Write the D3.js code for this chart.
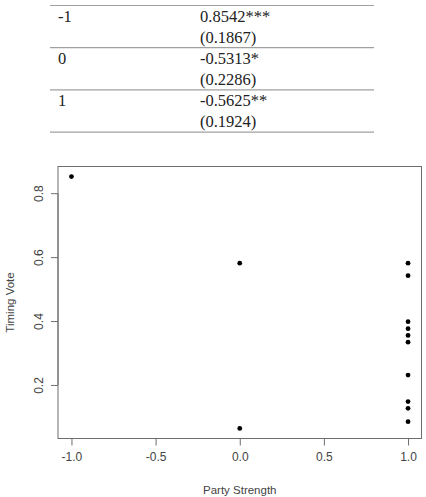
<!DOCTYPE html>
<html>
<head>
<meta charset="utf-8">
<script src="https://cdn.jsdelivr.net/npm/d3@7"></script>
<style>
    body { margin: 0; background: #fff; }
    svg { display: block; }
</style>
</head>
<body>
<div id="chart"></div>
<script>
// Regression table rows
const tableLevels = ["-1", "0", "1"];
const tableCoefs = ["0.8542***", "-0.5313*", "-0.5625**"];
const tableErrors = ["(0.1867)", "(0.2286)", "(0.1924)"];

// Scatter data
const partyStrength = [-1, 0, 0, 1, 1, 1, 1, 1, 1, 1, 1, 1, 1];
const timingVote = [0.852, 0.581, 0.064, 0.581, 0.542, 0.398, 0.376, 0.355, 0.334, 0.231, 0.148, 0.127, 0.085];

const xTicks = [-1.0, -0.5, 0.0, 0.5, 1.0];
const yTicks = [0.2, 0.4, 0.6, 0.8];

class ScatterPlot {

    /**
     * Construct the table + scatter figure.
     * @param config - object, size and layout info
     */
    constructor(config) {
        this.config = config;
        this.configureVis();
    }

    configureVis() {
        const vis = this;

        vis.svg = d3.select(vis.config.parentElement)
            .append('svg')
            .attr('width', vis.config.containerWidth)
            .attr('height', vis.config.containerHeight);

        vis.table = vis.svg.append('g').attr('class', 'table');
        vis.chart = vis.svg.append('g').attr('class', 'chart');

        // R style: data range padded by 4% each side
        const xExt = d3.extent(partyStrength);
        const yExt = d3.extent(timingVote);
        const xPad = (xExt[1] - xExt[0]) * 0.04;
        const yPad = (yExt[1] - yExt[0]) * 0.04;

        vis.xScale = d3.scaleLinear()
            .domain([xExt[0] - xPad, xExt[1] + xPad])
            .range([vis.config.plot.left, vis.config.plot.right]);

        vis.yScale = d3.scaleLinear()
            .domain([yExt[0] - yPad, yExt[1] + yPad])
            .range([vis.config.plot.bottom, vis.config.plot.top]);

        vis.renderTable();
        vis.renderVis();
    }

    renderTable() {
        const vis = this;
        const t = vis.config.table;

        const rowTops = tableLevels.map((_, i) => t.top + i * t.rowHeight);

        vis.table.selectAll('.rule')
            .data(rowTops.concat([t.top + tableLevels.length * t.rowHeight]))
            .join('line')
            .attr('class', 'rule')
            .attr('x1', t.left)
            .attr('x2', t.right)
            .attr('y1', d => d)
            .attr('y2', d => d)
            .style('stroke', '#a0a0a0')
            .style('stroke-width', '1.2px');

        const textStyle = sel => sel
            .style('font-family', '"Liberation Serif", "Times New Roman", serif')
            .style('font-size', '16.5px')
            .attr('fill', '#222');

        vis.table.selectAll('.level')
            .data(tableLevels)
            .join('text')
            .attr('class', 'level')
            .attr('x', t.col1)
            .attr('y', (d, i) => rowTops[i] + 16.5)
            .call(textStyle)
            .text(d => d);

        vis.table.selectAll('.coef')
            .data(tableCoefs)
            .join('text')
            .attr('class', 'coef')
            .attr('x', t.col2)
            .attr('y', (d, i) => rowTops[i] + 16.5)
            .call(textStyle)
            .text(d => d);

        vis.table.selectAll('.err')
            .data(tableErrors)
            .join('text')
            .attr('class', 'err')
            .attr('x', t.col2)
            .attr('y', (d, i) => rowTops[i] + 37.5)
            .call(textStyle)
            .text(d => d);
    }

    renderVis() {
        const vis = this;
        const p = vis.config.plot;
        const axisColor = '#6e6e6e';
        const labelColor = '#444';
        const font = '"Liberation Sans", Arial, sans-serif';

        // Plot box
        vis.chart.append('rect')
            .attr('x', p.left)
            .attr('y', p.top)
            .attr('width', p.right - p.left)
            .attr('height', p.bottom - p.top)
            .attr('fill', 'none')
            .style('stroke', axisColor)
            .style('stroke-width', '1px');

        // X axis
        const xAxis = d3.axisBottom(vis.xScale)
            .tickValues(xTicks)
            .tickSize(7)
            .tickPadding(7)
            .tickFormat(d3.format('.1f'));

        const xg = vis.chart.append('g')
            .attr('transform', `translate(0, ${p.bottom})`)
            .call(xAxis);
        xg.select('.domain')
            .attr('d', `M${vis.xScale(xTicks[0])},0H${vis.xScale(xTicks[xTicks.length - 1])}`)
            .style('stroke', axisColor);
        xg.selectAll('.tick line').style('stroke', axisColor);
        xg.selectAll('.tick text')
            .style('font-family', font)
            .style('font-size', '12px')
            .attr('fill', labelColor)
            .text(d => d3.format('.1f')(d).replace('−', '-'));

        // Y axis with rotated labels
        const yAxis = d3.axisLeft(vis.yScale)
            .tickValues(yTicks)
            .tickSize(7)
            .tickFormat(d3.format('.1f'));

        const yg = vis.chart.append('g')
            .attr('transform', `translate(${p.left}, 0)`)
            .call(yAxis);
        yg.select('.domain')
            .attr('d', `M0,${vis.yScale(yTicks[0])}V${vis.yScale(yTicks[yTicks.length - 1])}`)
            .style('stroke', axisColor);
        yg.selectAll('.tick line').style('stroke', axisColor);
        yg.selectAll('.tick text')
            .attr('x', 0)
            .attr('y', 0)
            .attr('dy', null)
            .attr('transform', 'translate(-15, 0) rotate(-90)')
            .style('text-anchor', 'middle')
            .style('font-family', font)
            .style('font-size', '12px')
            .attr('fill', labelColor);

        // Axis titles
        vis.chart.append('text')
            .attr('x', (p.left + p.right) / 2)
            .attr('y', p.bottom + 55)
            .style('text-anchor', 'middle')
            .style('font-family', font)
            .style('font-size', '11.5px')
            .attr('fill', labelColor)
            .text('Party Strength');

        vis.chart.append('text')
            .attr('transform', `translate(14, ${(p.top + p.bottom) / 2}) rotate(-90)`)
            .style('text-anchor', 'middle')
            .style('font-family', font)
            .style('font-size', '11.5px')
            .attr('fill', labelColor)
            .text('Timing Vote');

        // Points
        vis.chart.selectAll('.dot')
            .data(partyStrength.map((x, i) => ({ x: x, y: timingVote[i] })))
            .join('circle')
            .attr('class', 'dot')
            .attr('cx', d => vis.xScale(d.x))
            .attr('cy', d => vis.yScale(d.y))
            .attr('r', 2.4)
            .attr('fill', '#000');
    }
}

new ScatterPlot({
    parentElement: '#chart',
    containerWidth: 426,
    containerHeight: 497,
    table: { left: 50, right: 374, top: 5.5, rowHeight: 42.2, col1: 58, col2: 200 },
    plot: { left: 58, right: 421.5, top: 166.5, bottom: 438.5 }
});
</script>
</body>
</html>
